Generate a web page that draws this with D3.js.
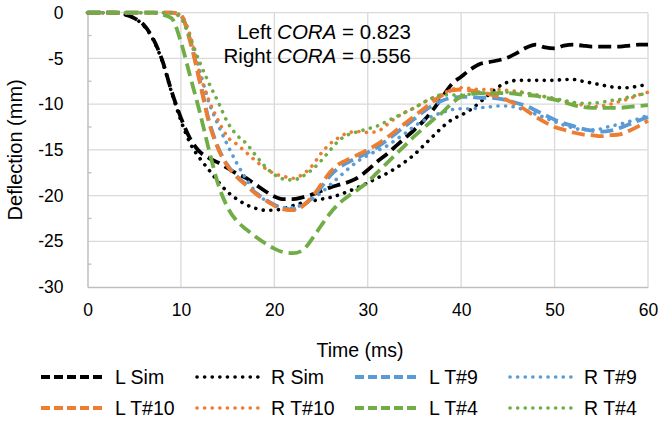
<!DOCTYPE html>
<html><head><meta charset="utf-8">
<script src="https://cdn.jsdelivr.net/npm/d3@7"></script>
<style>
html,body{margin:0;padding:0;background:#fff;}
svg{display:block;font-family:"Liberation Sans",Arial,sans-serif;}
</style></head>
<body><svg id="chart" width="661" height="421"></svg>
<script>
const time = [0,1,2,3,4,5,6,7,8,9,10,11,12,13,14,15,16,17,18,19,20,21,22,23,24,25,26,27,28,29,30,31,32,33,34,35,36,37,38,39,40,41,42,43,44,45,46,47,48,49,50,51,52,53,54,55,56,57,58,59,60];
const lSim  = [0,0,0,0,-0.2,-0.6,-1.3,-2.8,-5.2,-8.6,-11.5,-13.8,-15.2,-15.9,-16.4,-17.0,-17.6,-18.1,-18.8,-19.5,-20.1,-20.4,-20.4,-20.2,-19.9,-19.5,-19.1,-18.8,-18.5,-18.0,-17.2,-16.3,-15.5,-14.6,-13.7,-12.8,-11.8,-10.6,-9.2,-7.8,-7.0,-6.2,-5.6,-5.4,-5.2,-4.9,-4.4,-3.8,-3.5,-3.8,-3.9,-3.6,-3.5,-3.6,-3.7,-3.7,-3.7,-3.7,-3.6,-3.5,-3.5];
const rSim  = [0,0,0,0,-0.2,-0.6,-1.4,-2.9,-5.3,-8.7,-11.8,-14.3,-15.9,-17.2,-18.5,-19.6,-20.4,-21.0,-21.4,-21.6,-21.6,-21.4,-21.1,-20.8,-20.6,-20.4,-20.2,-19.9,-19.5,-19.1,-18.6,-18.1,-17.6,-17.0,-16.3,-15.5,-14.5,-13.5,-12.5,-11.7,-11.2,-10.6,-9.8,-8.9,-8.1,-7.6,-7.4,-7.4,-7.4,-7.4,-7.4,-7.3,-7.3,-7.5,-7.7,-7.9,-8.1,-8.2,-8.2,-8.0,-7.9];
const lT9   = [0,0,0,0,0,0,0,0,0,0,-0.3,-3.0,-7.3,-11.8,-14.8,-16.7,-17.9,-18.8,-19.7,-20.4,-21.0,-21.4,-21.5,-21.1,-20.3,-19.1,-17.8,-16.9,-16.3,-15.8,-15.3,-14.7,-14.0,-13.2,-12.4,-11.6,-10.8,-10.1,-9.6,-9.3,-9.2,-9.2,-9.3,-9.3,-9.4,-9.6,-9.9,-10.2,-10.7,-11.2,-11.7,-12.1,-12.4,-12.7,-12.9,-13.0,-12.9,-12.6,-12.2,-11.8,-11.4];
const rT9   = [0,0,0,0,0,0,0,0,0,0,-0.5,-3.0,-6.3,-9.8,-12.3,-14.5,-16.5,-18.2,-19.6,-20.5,-21.0,-21.3,-21.3,-21.0,-20.4,-19.7,-18.8,-17.9,-17.0,-16.2,-15.6,-15.1,-14.6,-13.9,-13.2,-12.4,-11.8,-11.3,-10.9,-10.6,-10.5,-10.5,-10.4,-10.3,-10.2,-10.2,-10.4,-10.7,-11.1,-11.5,-11.9,-12.3,-12.6,-12.8,-12.8,-12.7,-12.4,-12.2,-11.9,-11.6,-11.2];
const lT10  = [0,0,0,0,0,0,0,0,0,0,-0.3,-3.2,-7.5,-12.0,-14.9,-16.8,-18.0,-18.9,-19.8,-20.5,-21.1,-21.5,-21.6,-21.2,-20.2,-18.8,-17.4,-16.5,-16.0,-15.5,-15.0,-14.4,-13.7,-12.9,-12.1,-11.3,-10.5,-9.7,-9.0,-8.5,-8.4,-8.5,-8.7,-8.9,-9.2,-9.6,-10.1,-10.7,-11.4,-12.0,-12.5,-12.8,-13.1,-13.3,-13.4,-13.5,-13.4,-13.3,-12.9,-12.4,-11.8];
const rT10  = [0,0,0,0,0,0,0,0,0,0,-0.3,-2.5,-6.6,-9.6,-11.8,-13.6,-14.4,-15.3,-16.2,-17.0,-17.6,-17.9,-18.1,-17.7,-16.8,-15.4,-14.3,-13.6,-13.1,-13.0,-13.1,-13.0,-12.3,-11.5,-10.9,-10.4,-9.8,-9.3,-8.9,-8.4,-8.2,-8.3,-8.4,-8.4,-8.4,-8.5,-8.6,-8.8,-9.0,-9.2,-9.4,-9.7,-9.9,-10.1,-10.3,-10.2,-10.0,-9.7,-9.4,-9.0,-8.7];
const lT4   = [0,0,0,0,0,0,0,0,-0.2,-0.6,-3.2,-7.0,-10.8,-15.0,-18.8,-21.3,-22.8,-23.7,-24.5,-25.2,-25.8,-26.2,-26.3,-26.0,-24.8,-23.3,-21.9,-20.8,-20.0,-19.3,-18.5,-17.5,-16.5,-15.5,-14.5,-13.5,-12.6,-11.7,-10.9,-9.9,-9.2,-8.9,-8.8,-8.8,-8.8,-8.8,-8.9,-9.0,-9.1,-9.3,-9.5,-9.8,-10.1,-10.3,-10.4,-10.4,-10.4,-10.4,-10.3,-10.2,-10.1];
const rT4   = [0,0,0,0,0,0,0,0,0,0,-0.6,-2.8,-5.4,-7.7,-9.8,-12.0,-13.4,-14.3,-15.6,-16.8,-17.7,-18.2,-18.3,-17.9,-17.2,-16.2,-15.0,-13.9,-13.3,-13.0,-12.7,-12.4,-11.9,-11.4,-10.9,-10.4,-9.8,-9.3,-9.0,-9.0,-9.0,-8.9,-8.8,-8.8,-8.7,-8.7,-8.7,-8.8,-9.0,-9.2,-9.4,-9.6,-9.8,-9.9,-9.9,-9.8,-9.6,-9.5,-9.2,-9.0,-8.8];

const seriesNames = ["L Sim","R Sim","L T#9","R T#9","L T#10","R T#10","L T#4","R T#4"];
const seriesValues = [lSim, rSim, lT9, rT9, lT10, rT10, lT4, rT4];
const seriesColors = ["#000000","#000000","#5b9bd5","#5b9bd5","#ed7d31","#ed7d31","#70ad47","#70ad47"];
const seriesDashed = [true,false,true,false,true,false,true,false];

const xTicks = [0,10,20,30,40,50,60];
const yTicks = [0,-5,-10,-15,-20,-25,-30];
const yMinorTicks = [-2.5,-7.5,-12.5,-17.5,-22.5,-27.5];
const xTitle = "Time (ms)";
const yTitle = "Deflection (mm)";
const coraLines = [["Left ","CORA"," = 0.823"],["Right ","CORA"," = 0.556"]];

const FONT = "Liberation Sans, Arial, sans-serif";
const svg = d3.select("#chart");
const m = {left:87.5, right:648, top:12.7, bottom:287};
const x = d3.scaleLinear().domain([0,60]).range([m.left, m.right]);
const y = d3.scaleLinear().domain([-30,0]).range([m.bottom, m.top]);

// grid
const g = svg.append("g");
g.selectAll(".hg").data(yTicks.filter(d=>d!==-30)).join("line")
  .attr("x1", m.left).attr("x2", m.right)
  .attr("y1", d=>y(d)).attr("y2", d=>y(d))
  .attr("stroke","#d9d9d9").attr("stroke-width",1.3);
g.selectAll(".vg").data(xTicks.filter(d=>d!==0)).join("line")
  .attr("y1", m.top).attr("y2", m.bottom)
  .attr("x1", d=>x(d)).attr("x2", d=>x(d))
  .attr("stroke","#d9d9d9").attr("stroke-width",1.3);

// axes
const yAxis = d3.axisLeft(y).tickValues(yTicks).tickSize(0).tickPadding(24).tickFormat(d=>String(d));
const yAx = svg.append("g").attr("transform",`translate(${m.left},0)`).call(yAxis);
yAx.select(".domain").attr("stroke","#bfbfbf").attr("stroke-width",1.5);
yAx.selectAll("text").attr("font-size",17.5).attr("fill","#000").attr("font-family",FONT);
svg.append("g").selectAll("line").data(yMinorTicks).join("line")
  .attr("x1", m.left).attr("x2", m.left+4)
  .attr("y1", d=>y(d)).attr("y2", d=>y(d))
  .attr("stroke","#bfbfbf").attr("stroke-width",1.3);

const xAxis = d3.axisBottom(x).tickValues(xTicks).tickSize(0).tickPadding(17).tickFormat(d=>String(d));
const xAx = svg.append("g").attr("transform",`translate(0,${m.bottom})`).call(xAxis);
xAx.select(".domain").attr("stroke","#bfbfbf").attr("stroke-width",1.5);
xAx.selectAll("text").attr("font-size",17.5).attr("fill","#000").attr("font-family",FONT);

// titles
svg.append("text").attr("x", 360).attr("y", 357)
  .attr("text-anchor","middle").attr("font-size",19.5).text(xTitle);
svg.append("text").attr("transform",`translate(22,${(m.top+m.bottom)/2}) rotate(-90)`)
  .attr("text-anchor","middle").attr("font-size",20).text(yTitle);

// lines
const line = d3.line().x((d,i)=>x(time[i])).y(d=>y(d)).curve(d3.curveMonotoneX);
const plot = svg.append("g");
seriesValues.forEach((vals,k)=>{
  plot.append("path").datum(vals)
    .attr("d", line)
    .attr("fill","none")
    .attr("stroke", seriesColors[k])
    .attr("stroke-width", seriesDashed[k] ? 3.8 : 3.6)
    .attr("stroke-linecap", seriesDashed[k] ? "butt" : "round")
    .attr("stroke-dasharray", seriesDashed[k] ? "13,6" : "0.1,7.5");
});

// CORA text
coraLines.forEach((parts,i)=>{
  const t = svg.append("text").attr("x", 411).attr("y", 39 + i*24)
    .attr("text-anchor","end").attr("font-size",20.5);
  t.append("tspan").text(parts[0]);
  t.append("tspan").attr("font-style","italic").text(parts[1]);
  t.append("tspan").text(parts[2]);
});

// legend
const colX = [41, 197, 355, 510];
const rowY = [377, 408];
seriesNames.forEach((name,k)=>{
  const col = k % 4, row = Math.floor(k/4);
  const lg = svg.append("g").attr("transform",`translate(${colX[col]},${rowY[row]})`);
  lg.append("line").attr("x1",0).attr("x2",62).attr("y1",0).attr("y2",0)
    .attr("stroke", seriesColors[k])
    .attr("stroke-width", seriesDashed[k] ? 3.8 : 3.6)
    .attr("stroke-linecap", seriesDashed[k] ? "butt" : "round")
    .attr("stroke-dasharray", seriesDashed[k] ? "9,4" : "0.1,7.5");
  lg.append("text").attr("x", 74).attr("y", 7).attr("font-size",19.5).text(name);
});
</script></body></html>
